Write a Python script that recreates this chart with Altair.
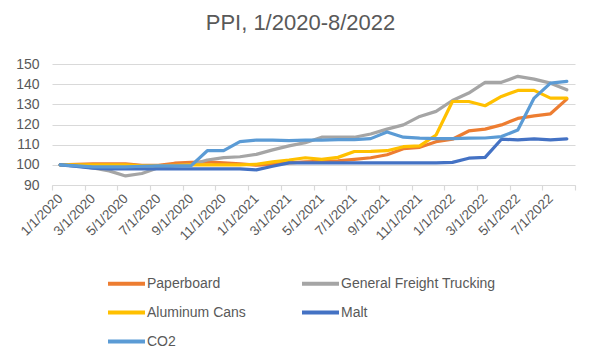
import altair as alt
import pandas as pd

# month labels (Jan 2020 .. Aug 2022)
months = [f"{m}/1/{y}" for y in (2020, 2021, 2022) for m in range(1, 13)][:32]

series_names = ["Paperboard", "General Freight Trucking", "Aluminum Cans", "Malt", "CO2"]
series_colors = ["#ED7D31", "#A5A5A5", "#FFC000", "#4472C4", "#5B9BD5"]

paperboard = [100, 100.3, 100.5, 100.5, 100.5, 99.7, 99.8, 100.8, 101.2, 101.5, 101, 100.5,
              99.8, 100.2, 101, 101.5, 101.7, 102, 102.7, 103.5, 105, 108, 108.7, 111.5,
              112.7, 116.8, 117.7, 119.8, 123, 124.3, 125.3, 132.6]
trucking = [100, 99.5, 98.5, 97, 94.5, 95.7, 98.5, 99.5, 100, 102.4, 103.6, 104,
            105.2, 107.4, 109.4, 111, 113.7, 113.7, 113.7, 115.3, 117.7, 119.8, 124, 126.5,
            131.9, 135.6, 140.9, 140.9, 143.9, 142.5, 140.5, 137.2]
aluminum = [100, 100, 100, 100, 100, 99.5, 99.5, 99.8, 100, 100, 100, 100,
            100.3, 101.5, 102.4, 103.5, 102.7, 103.7, 106.6, 106.7, 107, 109, 109.4, 114.8,
            131.4, 131.4, 129.3, 133.9, 136.9, 136.9, 133.1, 133.1]
malt = [100, 99.2, 98.3, 98, 98, 98, 98, 98, 98, 98, 98, 98,
        97.5, 99.3, 101, 101, 101, 101, 101, 101, 101, 101, 101, 101,
        101.2, 103.3, 103.7, 112.7, 112.4, 112.9, 112.4, 112.9]
co2 = [100, 99.5, 99, 99, 99, 99.3, 99.5, 99.5, 99.5, 107, 107, 111.5,
       112.3, 112.3, 112, 112.3, 112.3, 112.5, 112.5, 113, 116.3, 113.7, 113.2, 113,
       113, 113.2, 113.3, 114, 117.3, 133.1, 140.5, 141.4]

all_values = [paperboard, trucking, aluminum, malt, co2]

rows = []
for name, vals in zip(series_names, all_values):
    for i, v in enumerate(vals):
        rows.append({"idx": i, "month": months[i], "series": name, "value": v})
df = pd.DataFrame(rows)

tick_labels = months[::2]
label_array = "[" + ",".join(f"'{t}'" for t in tick_labels) + ",'']"
tick_values = [-0.5 + 2 * k for k in range(17)]

FONT = "Liberation Sans"
GREY = "#595959"
GRID = "#D9D9D9"

chart = alt.Chart(df).mark_line(strokeWidth=3.2, strokeJoin="round", strokeCap="round").encode(
    x=alt.X("idx:Q",
            scale=alt.Scale(domain=[-0.5, 31.5], nice=False, zero=False),
            axis=alt.Axis(values=tick_values, title=None,
                          labelExpr=f"{label_array}[floor((datum.value + 0.5) / 2)]",
                          labelAngle=315, labelAlign="right", labelBaseline="middle",
                          labelOffset=8.17, labelPadding=6,
                          labelOverlap=False, labelBound=False, labelFlush=False,
                          labelFont=FONT, labelFontSize=13.5, labelColor=GREY,
                          grid=False, domainColor=GRID, domainWidth=1.2,
                          tickColor=GRID, tickSize=5, tickWidth=1.2)),
    y=alt.Y("value:Q",
            scale=alt.Scale(domain=[90, 150], nice=False, zero=False),
            axis=alt.Axis(values=[90, 100, 110, 120, 130, 140, 150], title=None,
                          domain=False, ticks=False, labelPadding=13,
                          labelFont=FONT, labelFontSize=14, labelColor=GREY,
                          gridColor=GRID, gridWidth=1.2)),
    color=alt.Color("series:N",
                    scale=alt.Scale(domain=series_names, range=series_colors),
                    legend=alt.Legend(title=None, orient="none", legendX=54, legendY=199,
                                      direction="horizontal",
                                      columns=2, columnPadding=48, rowPadding=-7,
                                      symbolType="stroke", symbolSize=1369,
                                      symbolStrokeWidth=4, labelOffset=0,
                                      labelFont=FONT, labelFontSize=14, labelColor=GREY,
                                      labelLimit=300)),
    detail="series:N",
).properties(
    width=523,
    height=121,
    title=alt.TitleParams("PPI, 1/2020-8/2022", font=FONT, fontSize=22,
                          fontWeight="normal", color=GREY, offset=22, dx=-13),
    autosize=alt.AutoSizeParams(type="none"),
    padding={"left": 44, "top": 56, "right": 17, "bottom": 170},
).configure_view(stroke=None)

chart.save("out.html", embed_options={"renderer": "svg", "actions": False})
